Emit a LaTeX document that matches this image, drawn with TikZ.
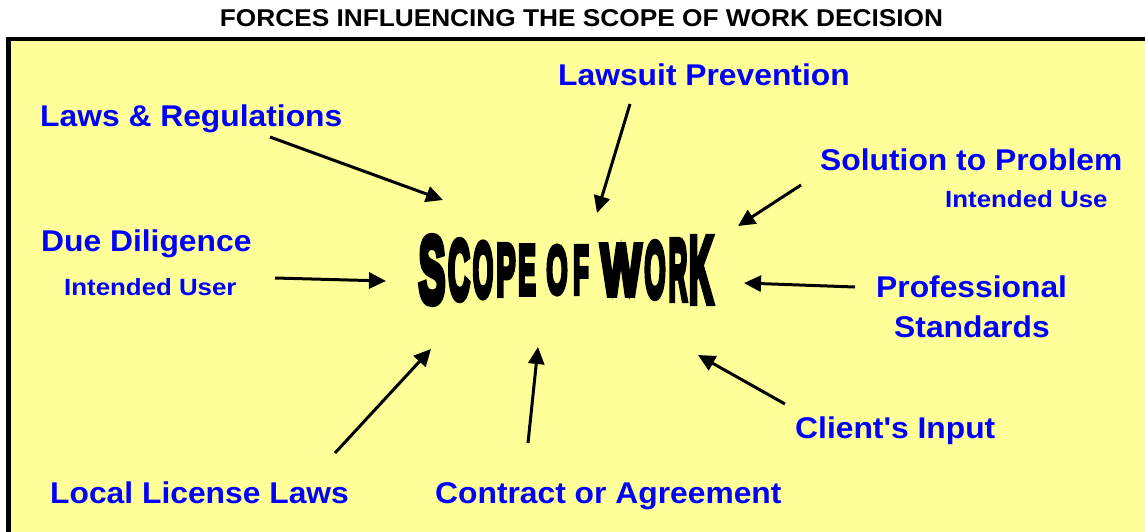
\documentclass[tikz,border=0pt]{standalone}
\usepackage{fontspec}
\setmainfont{Liberation Sans}
\newfontfamily\heavyfont[FakeBold=8]{Liberation Sans Bold}
\usetikzlibrary{arrows.meta}
\definecolor{pad}{HTML}{FFFF99}
\definecolor{labblue}{HTML}{0000FF}
% label text helpers: bold Arial-like, slightly widened
\newcommand\biglab[1]{\scalebox{1.06}[1]{\fontsize{30}{30}\selectfont\bfseries #1}}
\newcommand\smalllab[1]{\scalebox{1.1}[1]{\fontsize{23.5}{23.5}\selectfont\bfseries #1}}
% one letter of the warped headline
\newcommand\wl[3]{\scalebox{#1}[#2]{#3}}
\begin{document}
\begin{tikzpicture}[x=1pt,y=-1pt,
  lbl/.style={text=labblue, inner sep=0pt, anchor=base west},
  force/.style={line width=3pt, -{Triangle[length=17pt,width=16pt]}},
  wa/.style={inner sep=0pt, anchor=center, font=\heavyfont\fontsize{40}{40}\selectfont}]
\useasboundingbox (0,0) rectangle (1145,531);
\clip (0,0) rectangle (1145,531);

% title
\node[inner sep=0pt, anchor=base] (title) at (581.5,26.7)
  {\scalebox{1.08}[1]{\fontsize{24.3}{24.3}\selectfont\bfseries FORCES INFLUENCING THE SCOPE OF WORK DECISION}};

% yellow panel
\path[fill=pad, draw=black, line width=4.5pt] (8.5,39) rectangle (1170,560);

% warped headline
\node[wa] (w1)  at (432,270) {\wl{1.00}{2.36}{S}};
\node[wa] (w2)  at (459,270) {\wl{0.76}{2.11}{C}};
\node[wa] (w3)  at (483,270) {\wl{0.66}{1.94}{O}};
\node[wa] (w4)  at (506,270) {\wl{0.72}{1.83}{P}};
\node[wa] (w5)  at (527,270) {\wl{0.66}{1.75}{E}};
\node[wa] (w6)  at (557,270) {\wl{0.68}{1.69}{O}};
\node[wa] (w7)  at (581,270) {\wl{0.64}{1.70}{F}};
\node[wa] (w8)  at (621,270) {\wl{1.08}{1.81}{W}};
\node[wa] (w9)  at (655,270) {\wl{0.68}{1.98}{O}};
\node[wa] (w10) at (678,270) {\wl{0.64}{2.15}{R}};
\node[wa] (w11) at (701,270) {\wl{0.84}{2.35}{K}};

% forces
\node[lbl] (lawsuit)  at (558,85)  {\biglab{Lawsuit Prevention}};
\node[lbl] (laws)     at (40,126)  {\biglab{Laws \& Regulations}};
\node[lbl] (solution) at (820,170) {\biglab{Solution to Problem}};
\node[lbl] (use)      at (945,207) {\smalllab{Intended Use}};
\node[lbl] (diligence) at (41,251) {\biglab{Due Diligence}};
\node[lbl] (user)     at (64,295)  {\smalllab{Intended User}};
\node[lbl] (prof)     at (876,297) {\biglab{Professional}};
\node[lbl] (stand)    at (894,337) {\biglab{Standards}};
\node[lbl] (client)   at (795,438) {\biglab{Client\textquotesingle s Input}};
\node[lbl] (local)    at (50,503)  {\biglab{Local License Laws}};
\node[lbl] (contract) at (435,503) {\biglab{Contract or Agreement}};

% arrow ends
\coordinate (a1t) at (270,137); \coordinate (a1h) at (443,200);
\coordinate (a2t) at (630,104); \coordinate (a2h) at (597,213);
\coordinate (a3t) at (801,185); \coordinate (a3h) at (738,226);
\coordinate (a4t) at (275,278); \coordinate (a4h) at (386,281);
\coordinate (a5t) at (855,287); \coordinate (a5h) at (744,283);
\coordinate (a6t) at (335,453); \coordinate (a6h) at (431,349);
\coordinate (a7t) at (528,443); \coordinate (a7h) at (538,347);
\coordinate (a8t) at (785,404); \coordinate (a8h) at (698,355);

\draw[force] (a1t) -- (a1h);
\draw[force] (a2t) -- (a2h);
\draw[force] (a3t) -- (a3h);
\draw[force] (a4t) -- (a4h);
\draw[force] (a5t) -- (a5h);
\draw[force] (a6t) -- (a6h);
\draw[force] (a7t) -- (a7h);
\draw[force] (a8t) -- (a8h);
\end{tikzpicture}
\end{document}
